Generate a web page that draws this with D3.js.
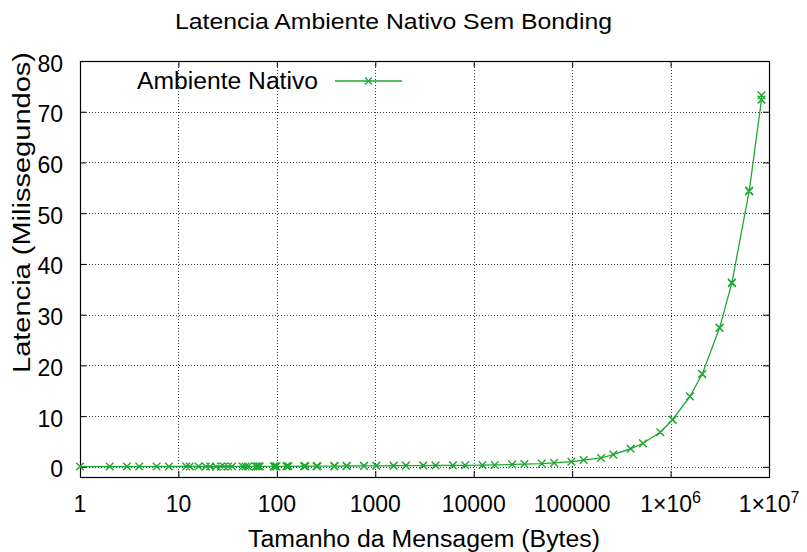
<!DOCTYPE html>
<html>
<head>
<meta charset="utf-8">
<script src="https://cdn.jsdelivr.net/npm/d3@7"></script>
<style>
  html, body { margin: 0; padding: 0; background: #fff; }
  svg { display: block; font-family: "Liberation Sans", Arial, Helvetica, sans-serif; }
</style>
</head>
<body>
<svg id="chart" width="807" height="552"></svg>
<script>
// Message sizes (bytes) as produced by the benchmark (n-3, n, n+3 perturbations)
const sizes = [
  1, 2, 3, 4, 6, 8,
  12, 13, 16, 19, 21, 24, 27, 29, 32, 35,
  45, 48, 51, 61, 64, 67,
  93, 96, 99, 125, 128, 131,
  189, 192, 195, 253, 256, 259,
  381, 384, 387, 509, 512, 515,
  765, 768, 771, 1021, 1024, 1027,
  1533, 1536, 1539, 2045, 2048, 2051,
  3069, 3072, 3075, 4093, 4096, 4099,
  6141, 6144, 6147, 8189, 8192, 8195,
  12285, 12288, 12291, 16381, 16384, 16387,
  24573, 24576, 24579, 32765, 32768, 32771,
  49149, 49152, 49155, 65533, 65536, 65539,
  98301, 98304, 98307, 131069, 131072, 131075,
  196605, 196608, 196611, 262141, 262144, 262147,
  393213, 393216, 393219, 524285, 524288, 524291,
  786429, 786432, 786435, 1048573, 1048576, 1048579,
  1572861, 1572864, 1572867, 2097149, 2097152, 2097155,
  3145725, 3145728, 3145731, 4194301, 4194304, 4194307,
  6291453, 6291456, 6291459, 8388605, 8388608, 8388611
];

// Latency in milliseconds for each size above
const latencyMs = [
  0.06, 0.06, 0.06, 0.06, 0.06, 0.07,
  0.07, 0.07, 0.07, 0.07, 0.07, 0.07, 0.07, 0.07, 0.08, 0.08,
  0.08, 0.08, 0.08, 0.09, 0.09, 0.09,
  0.10, 0.10, 0.10, 0.11, 0.11, 0.11,
  0.12, 0.12, 0.12, 0.13, 0.13, 0.13,
  0.15, 0.15, 0.15, 0.17, 0.17, 0.17,
  0.19, 0.19, 0.19, 0.21, 0.21, 0.21,
  0.22, 0.22, 0.22, 0.24, 0.24, 0.24,
  0.26, 0.26, 0.26, 0.27, 0.27, 0.27,
  0.29, 0.29, 0.29, 0.31, 0.31, 0.31,
  0.34, 0.34, 0.34, 0.38, 0.38, 0.38,
  0.47, 0.47, 0.47, 0.55, 0.55, 0.55,
  0.63, 0.63, 0.63, 0.78, 0.78, 0.78,
  1.02, 1.03, 1.02, 1.34, 1.34, 1.35,
  1.76, 1.75, 1.76, 2.42, 2.41, 2.42,
  3.58, 3.60, 3.59, 4.63, 4.62, 4.64,
  6.82, 6.81, 6.83, 9.30, 9.26, 9.33,
  13.88, 13.90, 13.86, 18.30, 18.35, 18.28,
  27.40, 27.45, 27.38, 36.28, 36.35, 36.22,
  54.38, 54.45, 54.30, 72.35, 73.25, 72.40
];

const xTickValues = [1, 10, 100, 1000, 10000, 100000, 1e6, 1e7];
const xTickLabels = ["1", "10", "100", "1000", "10000", "100000", "1×10^6", "1×10^7"];
const yTickValues = [0, 10, 20, 30, 40, 50, 60, 70, 80];

const titleText = "Latencia Ambiente Nativo Sem Bonding";
const xTitle = "Tamanho da Mensagem (Bytes)";
const yTitle = "Latencia (Milissegundos)";
const seriesName = "Ambiente Nativo";

const lineColor = "#1fa832";

const svg = d3.select("#chart");
const plotLeft = 80, plotRight = 769, plotTop = 61, plotBottom = 477;

const x = d3.scaleLog().domain([1, 1e7]).range([plotLeft, plotRight]);
const y = d3.scaleLinear().domain([-2, 80]).range([plotBottom, plotTop]);

const data = sizes.map((s, i) => ({ s, v: latencyMs[i] }));

// Dotted grid
const grid = svg.append("g").attr("stroke", "#000").attr("stroke-width", 1)
  .attr("stroke-dasharray", "1,2").attr("opacity", 0.75);
grid.selectAll("line.gx").data(xTickValues.filter(v => v > 1 && v < 1e7)).join("line")
  .attr("x1", d => Math.round(x(d)) + 0.5).attr("x2", d => Math.round(x(d)) + 0.5)
  .attr("y1", plotTop).attr("y2", plotBottom);
grid.selectAll("line.gy").data(yTickValues.filter(v => v < 80)).join("line")
  .attr("y1", d => Math.round(y(d)) + 0.5).attr("y2", d => Math.round(y(d)) + 0.5)
  .attr("x1", plotLeft).attr("x2", plotRight);

// Axes with inward ticks on all four sides
const tickLen = 6;
const axB = svg.append("g").attr("transform", `translate(0,${plotBottom})`)
  .call(d3.axisBottom(x).tickValues(xTickValues).tickSize(-tickLen).tickFormat(""));
const axT = svg.append("g").attr("transform", `translate(0,${plotTop})`)
  .call(d3.axisTop(x).tickValues(xTickValues).tickSize(-tickLen).tickFormat(""));
const axL = svg.append("g").attr("transform", `translate(${plotLeft},0)`)
  .call(d3.axisLeft(y).tickValues(yTickValues).tickSize(-tickLen).tickFormat(""));
const axR = svg.append("g").attr("transform", `translate(${plotRight},0)`)
  .call(d3.axisRight(y).tickValues(yTickValues).tickSize(-tickLen).tickFormat(""));
[axB, axT, axL, axR].forEach(g => {
  g.select(".domain").remove();
  g.selectAll(".tick line").attr("stroke", "#000").attr("stroke-width", 1);
});

// Border
svg.append("rect").attr("x", plotLeft + 0.5).attr("y", plotTop + 0.5)
  .attr("width", plotRight - plotLeft).attr("height", plotBottom - plotTop)
  .attr("fill", "none").attr("stroke", "#000").attr("stroke-width", 1.2);

// Tick labels
const yLab = svg.append("g").attr("font-size", 23).attr("fill", "#000");
yLab.selectAll("text").data(yTickValues).join("text")
  .attr("x", 63).attr("y", d => y(d) + 10.5)
  .attr("text-anchor", "end").text(d => d);

const xLab = svg.append("g").attr("font-size", 23).attr("fill", "#000");
xLab.selectAll("text").data(xTickValues).join("text")
  .attr("x", d => x(d)).attr("y", 511.5)
  .attr("text-anchor", "middle")
  .each(function (d, i) {
    const lbl = xTickLabels[i];
    const t = d3.select(this);
    if (lbl.includes("^")) {
      const [base, exp] = lbl.split("^");
      t.append("tspan").text(base);
      t.append("tspan").attr("font-size", 16).attr("dy", -9).text(exp);
    } else {
      t.text(lbl);
    }
  });

// Titles
svg.append("text").attr("x", 175).attr("y", 29).attr("font-size", 21.5)
  .attr("textLength", 437).attr("lengthAdjust", "spacingAndGlyphs").text(titleText);
svg.append("text").attr("x", 248).attr("y", 546.5).attr("font-size", 23)
  .attr("textLength", 352).attr("lengthAdjust", "spacingAndGlyphs").text(xTitle);
svg.append("text").attr("transform", "translate(30,373) rotate(-90)")
  .attr("font-size", 23).attr("textLength", 321).attr("lengthAdjust", "spacingAndGlyphs")
  .text(yTitle);

// Cross marker path
const cross = (cx, cy, r) => `M${cx - r},${cy - r}L${cx + r},${cy + r}M${cx - r},${cy + r}L${cx + r},${cy - r}`;

// Series line and points
const plot = svg.append("g");
plot.append("path").datum(data)
  .attr("fill", "none").attr("stroke", lineColor).attr("stroke-width", 1.3)
  .attr("d", d3.line().x(d => x(d.s)).y(d => y(d.v)));
plot.append("path")
  .attr("fill", "none").attr("stroke", lineColor).attr("stroke-width", 1.4)
  .attr("d", data.map(d => cross(x(d.s), y(d.v), 3.8)).join(""));

// Legend
const legY = 81;
svg.append("text").attr("x", 318).attr("y", legY + 8).attr("font-size", 23)
  .attr("text-anchor", "end").attr("textLength", 181).attr("lengthAdjust", "spacingAndGlyphs")
  .text(seriesName);
svg.append("line").attr("x1", 335).attr("x2", 402).attr("y1", legY).attr("y2", legY)
  .attr("stroke", lineColor).attr("stroke-width", 1.3);
svg.append("path").attr("d", cross(368.5, legY, 3.5))
  .attr("fill", "none").attr("stroke", lineColor).attr("stroke-width", 1.3);
</script>
</body>
</html>
